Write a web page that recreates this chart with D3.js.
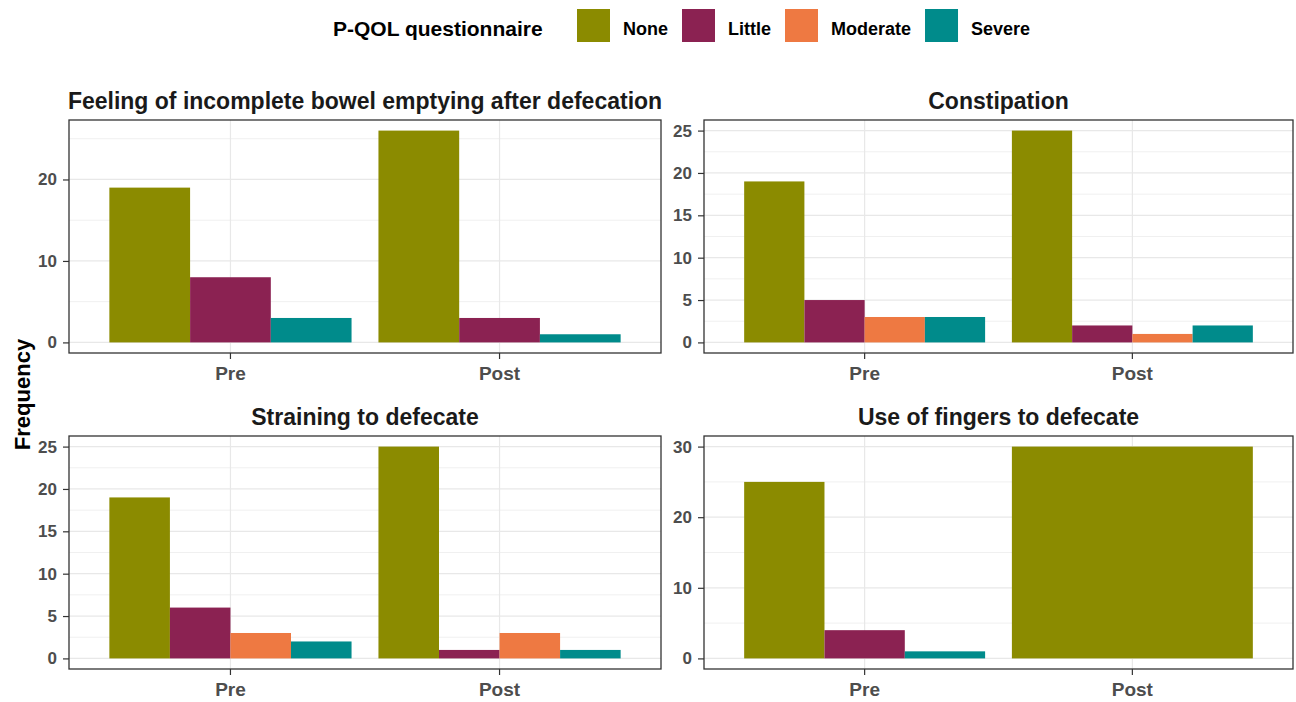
<!DOCTYPE html>
<html>
<head>
<meta charset="utf-8">
<script src="https://cdn.jsdelivr.net/npm/d3@7"></script>
<style>
  html, body { margin: 0; padding: 0; background: #fff; }
  svg { display: block; font-family: "Liberation Sans", Arial, sans-serif; }
</style>
</head>
<body>
<svg id="chart" width="1296" height="702"></svg>
<script>
// ---------------- DATA ----------------
const categories = ["Pre", "Post"];
const levels = ["None", "Little", "Moderate", "Severe"];
const levelColors = ["#8B8B00", "#8B2252", "#EE7942", "#008B8B"];
const panelTitles = [
  "Feeling of incomplete bowel emptying after defecation",
  "Constipation",
  "Straining to defecate",
  "Use of fingers to defecate"
];
// values per level [None, Little, Moderate, Severe]; null = absent
const feelingPre  = [19, 8, null, 3];
const feelingPost = [26, 3, null, 1];
const constipationPre  = [19, 5, 3, 3];
const constipationPost = [25, 2, 1, 2];
const strainingPre  = [19, 6, 3, 2];
const strainingPost = [25, 1, 3, 1];
const fingersPre  = [25, 4, null, 1];
const fingersPost = [30, null, null, null];
// y tick labels per panel
const feelingTicks = [0, 10, 20];
const constipationTicks = [0, 5, 10, 15, 20, 25];
const strainingTicks = [0, 5, 10, 15, 20, 25];
const fingersTicks = [0, 10, 20, 30];
const legendTitle = "P-QOL questionnaire";
const yTitle = "Frequency";

// ---------------- LAYOUT ----------------
const svg = d3.select("#chart");
const FONT_TITLE = 23, FONT_XTICK = 19, FONT_YTICK = 17;
const cols = [[69, 661], [704, 1293]];
const rows = [[120, 353], [436, 669]];
const panels = [
  { title: panelTitles[0], pre: feelingPre, post: feelingPost, ticks: feelingTicks, col: 0, row: 0 },
  { title: panelTitles[1], pre: constipationPre, post: constipationPost, ticks: constipationTicks, col: 1, row: 0 },
  { title: panelTitles[2], pre: strainingPre, post: strainingPost, ticks: strainingTicks, col: 0, row: 1 },
  { title: panelTitles[3], pre: fingersPre, post: fingersPost, ticks: fingersTicks, col: 1, row: 1 }
];

panels.forEach(p => {
  const [x0, x1] = cols[p.col];
  const [y0, y1] = rows[p.row];
  const series = [p.pre, p.post];
  const maxV = d3.max(series.flat().filter(v => v != null));
  const pad = maxV * 0.05;
  const y = d3.scaleLinear().domain([-pad, maxV + pad]).range([y1, y0]);
  const x = d3.scaleBand().domain(categories).range([x0, x1]).paddingInner(0.1).paddingOuter(0.15);

  const g = svg.append("g");

  // minor grid
  const t = p.ticks;
  const step = t[1] - t[0];
  const minor = [];
  for (let i = 0; i < t.length; i++) {
    const m = t[i] + step / 2;
    if (m <= maxV + pad) minor.push(m);
  }
  g.selectAll(".minor").data(minor).enter().append("line")
    .attr("x1", x0).attr("x2", x1)
    .attr("y1", d => y(d)).attr("y2", d => y(d))
    .attr("stroke", "#F0F0F0").attr("stroke-width", 1);
  // major grid
  g.selectAll(".major").data(t).enter().append("line")
    .attr("x1", x0).attr("x2", x1)
    .attr("y1", d => y(d)).attr("y2", d => y(d))
    .attr("stroke", "#E8E8E8").attr("stroke-width", 1.2);
  g.selectAll(".vmajor").data(categories).enter().append("line")
    .attr("x1", d => x(d) + x.bandwidth() / 2).attr("x2", d => x(d) + x.bandwidth() / 2)
    .attr("y1", y0).attr("y2", y1)
    .attr("stroke", "#E8E8E8").attr("stroke-width", 1.2);

  // bars (dodged among present levels)
  categories.forEach((cat, ci) => {
    const vals = series[ci];
    const present = levels.map((l, i) => ({ level: l, i, v: vals[i] })).filter(d => d.v != null);
    const inner = d3.scaleBand().domain(present.map(d => d.level)).range([0, x.bandwidth()]).padding(0);
    g.selectAll(null).data(present).enter().append("rect")
      .attr("x", d => x(cat) + inner(d.level))
      .attr("width", inner.bandwidth())
      .attr("y", d => y(d.v))
      .attr("height", d => y(0) - y(d.v))
      .attr("fill", d => levelColors[d.i]);
  });

  // panel border
  g.append("rect").attr("x", x0).attr("y", y0).attr("width", x1 - x0).attr("height", y1 - y0)
    .attr("fill", "none").attr("stroke", "#333333").attr("stroke-width", 1.3);

  // y axis
  const ya = g.append("g").attr("transform", `translate(${x0},0)`)
    .call(d3.axisLeft(y).tickValues(t).tickSize(6).tickPadding(6).tickFormat(d3.format("d")));
  ya.select(".domain").remove();
  ya.selectAll(".tick line").attr("stroke", "#333333").attr("stroke-width", 1.2);
  ya.selectAll(".tick text").attr("fill", "#4D4D4D").attr("font-size", FONT_YTICK)
    .attr("font-weight", "bold").attr("font-family", "Liberation Sans, Arial, sans-serif");

  // x axis
  const xa = g.append("g").attr("transform", `translate(0,${y1})`)
    .call(d3.axisBottom(x).tickSize(6).tickPadding(8));
  xa.select(".domain").remove();
  xa.selectAll(".tick line").attr("stroke", "#333333").attr("stroke-width", 1.2);
  xa.selectAll(".tick text").attr("fill", "#4D4D4D").attr("font-size", FONT_XTICK)
    .attr("font-weight", "bold").attr("font-family", "Liberation Sans, Arial, sans-serif");

  // strip title
  g.append("text").attr("x", (x0 + x1) / 2).attr("y", y0 - 11)
    .attr("text-anchor", "middle").attr("font-size", FONT_TITLE).attr("font-weight", "bold")
    .attr("fill", "#1a1a1a").text(p.title);
});

// y-axis title
svg.append("text")
  .attr("transform", `translate(30,${(rows[0][0] + rows[1][1]) / 2}) rotate(-90)`)
  .attr("text-anchor", "middle").attr("font-size", 22).attr("font-weight", "bold")
  .attr("fill", "#000").text(yTitle);

// legend
const lg = svg.append("g");
lg.append("text").attr("x", 333).attr("y", 36).attr("font-size", 21).attr("font-weight", "bold")
  .attr("fill", "#000").text(legendTitle);
let kx = 577;
levels.forEach((l, i) => {
  lg.append("rect").attr("x", kx).attr("y", 9).attr("width", 33).attr("height", 33)
    .attr("fill", levelColors[i]);
  const tx = lg.append("text").attr("x", kx + 46).attr("y", 35).attr("font-size", 18)
    .attr("font-weight", "bold").attr("fill", "#000").text(l);
  const w = tx.node().getComputedTextLength();
  kx = kx + 46 + w + 14;
});
</script>
</body>
</html>
